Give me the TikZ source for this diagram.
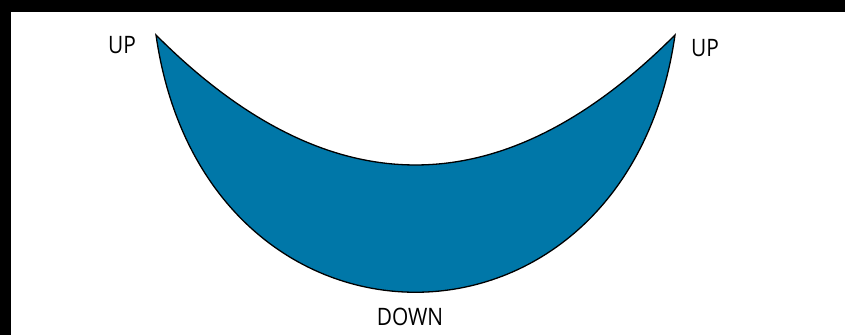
\documentclass[tikz,border=0pt]{standalone}
\usepackage{fontspec}
\setmainfont[FakeStretch=0.87]{Open Sans}
\definecolor{Bowl}{HTML}{0077A8}
\definecolor{Frame}{HTML}{000000}

\begin{document}
\begin{tikzpicture}[x=1pt,y=-1pt]
\tikzset{tag/.style={text=black, font=\fontsize{24}{28}\selectfont, inner sep=0pt}}
\useasboundingbox (0,0) rectangle (845,335);
\fill[white] (0,0) rectangle (845,335);
\fill[Frame] (0,0) rectangle (845,12);
\fill[Frame] (0,0) rectangle (11,335);
\coordinate (tipL) at (156,35);
\coordinate (tipR) at (675,35);
\draw[Bowl, fill=Bowl, draw=black, line width=1.3pt, line join=miter]
  (tipL) .. controls (205,378) and (626,378) .. (tipR)
  .. controls (502,208.3) and (329,208.3) .. (tipL) -- cycle;
\node[tag] (upL) at (122,45) {UP};
\node[tag] (upR) at (705,48) {UP};
\node[tag] (down) at (410,317) {DOWN};
\end{tikzpicture}
\end{document}
